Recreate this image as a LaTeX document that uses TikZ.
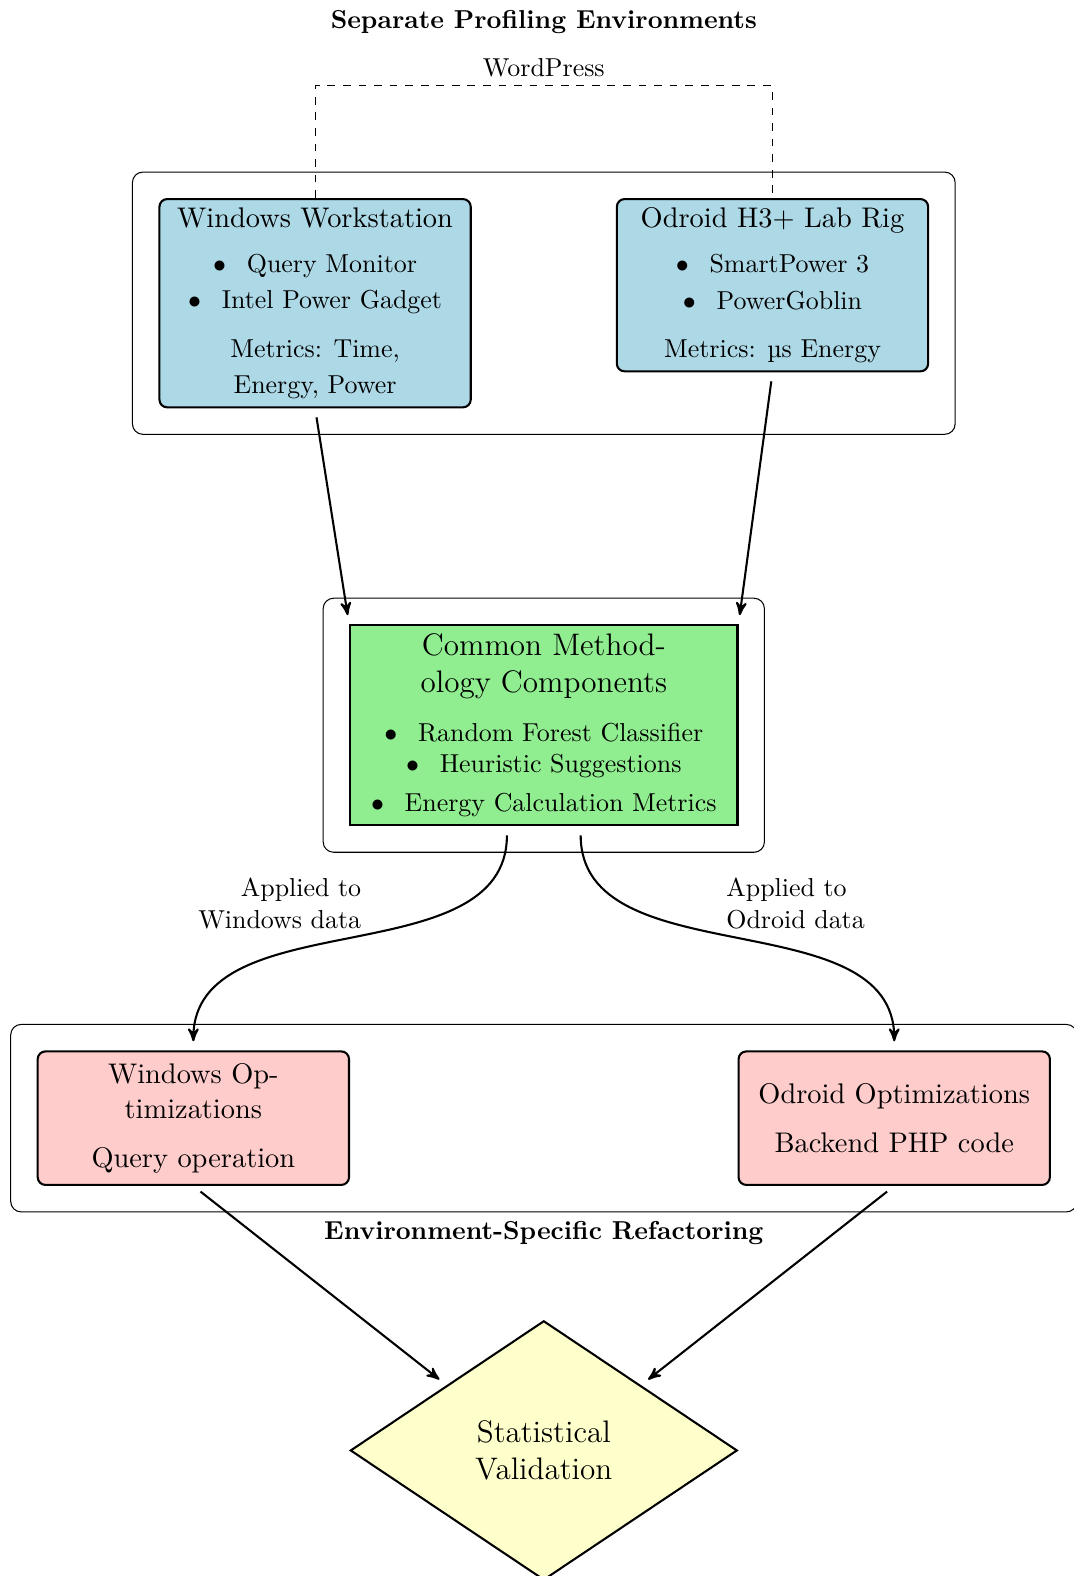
\documentclass[tikz,border=0pt]{standalone}
\usepackage{fontspec}
\usepackage{amsmath,amssymb}
\usepackage{xcolor}
\usepackage{tikz}
\usetikzlibrary{arrows,shapes.geometric,fit,positioning}

\definecolor{envblue}{RGB}{173,216,230}
\definecolor{methgreen}{RGB}{144,238,144}
\definecolor{optpink}{RGB}{255,204,204}
\definecolor{valyellow}{RGB}{255,255,204}

\newcommand{\boxfont}{\fontsize{10.95}{13.6}\selectfont}
\newcommand{\itm}[1]{$\bullet$\hspace{8pt}#1}

\begin{document}
\begin{tikzpicture}[>=stealth',
  envbox/.style={draw, thick, rounded corners=3pt, fill=envblue, align=center, anchor=north, minimum width=4.22cm},
  optbox/.style={draw, thick, rounded corners=3pt, fill=optpink, align=center, anchor=north, minimum width=4.22cm, minimum height=1.81cm, font=\boxfont},
  envgroup/.style={draw, rounded corners=4pt, inner sep=10pt},
  flow/.style={->, thick, shorten >=3.5pt, shorten <=3.5pt},
  grouptitle/.style={font=\bfseries}]
\useasboundingbox (-7.371,0) rectangle (7.180,-21.362);

\node[grouptitle] (T) at (0,-0.3) {Separate Profiling Environments};

% the two profiling set-ups
\node[envbox] (W) at (-3.1,-2.684) {{\boxfont Windows Workstation}\\[5.4pt]
  \itm{Query Monitor}\\[2pt] \itm{Intel Power Gadget}\\[6.6pt]
  Metrics: Time,\\[2pt] Energy, Power};
\node[envbox] (O) at (3.1,-2.684) {{\boxfont Odroid H3+ Lab Rig}\\[5.4pt]
  \itm{SmartPower 3}\\[2pt] \itm{PowerGoblin}\\[6.6pt]
  Metrics: µs Energy};
\node[envgroup, fit=(W)(O)] (G1) {};

\draw[dashed] (W.north) -- ++(0,1.52) -| (O.north) node[pos=0.25, above] (WP) {WordPress};

% shared methodology
\node[draw, thick, fill=methgreen, align=center, anchor=north, minimum width=5.25cm] (C) at (0,-8.46)
  {{\large Common Method-}\\[2.2pt]{\large ology Components}\\[6.7pt]
  \itm{Random Forest Classifier}\\[0.3pt] \itm{Heuristic Suggestions}\\[2.8pt]
  \itm{Energy Calculation Metrics}};
\node[envgroup, fit=(C)] (G2) {};

\draw[flow] (W.south) -- (C.north west);
\draw[flow] (O.south) -- (C.north east);

% refactoring per environment
\node[optbox] (WO) at (-4.75,-14.237) {Windows Op-\\timizations\\[5.4pt] Query operation};
\node[optbox] (OO) at (4.75,-14.237) {Odroid Optimizations\\[5.4pt] Backend PHP code};
\node[envgroup, fit=(WO)(OO)] (G3) {};
\node[grouptitle, below=0pt of G3] (R) {Environment-Specific Refactoring};

\draw[flow] ([xshift=-0.5cm]C.south) to[out=-90, in=90]
  node[above left, xshift=8pt, align=right] (LW) {Applied to\\Windows data} (WO.north);
\draw[flow] ([xshift=0.5cm]C.south) to[out=-90, in=90]
  node[above right, xshift=-8pt, align=left] (LO) {Applied to\\Odroid data} (OO.north);

\node[draw, thick, diamond, fill=valyellow, minimum width=5.245cm, minimum height=3.515cm,
  align=center, font=\large] (V) at (0,-19.66) {Statistical\\Validation};

\draw[flow] (WO.south) -- (V.north west);
\draw[flow] (OO.south) -- (V.north east);

\end{tikzpicture}
\end{document}
